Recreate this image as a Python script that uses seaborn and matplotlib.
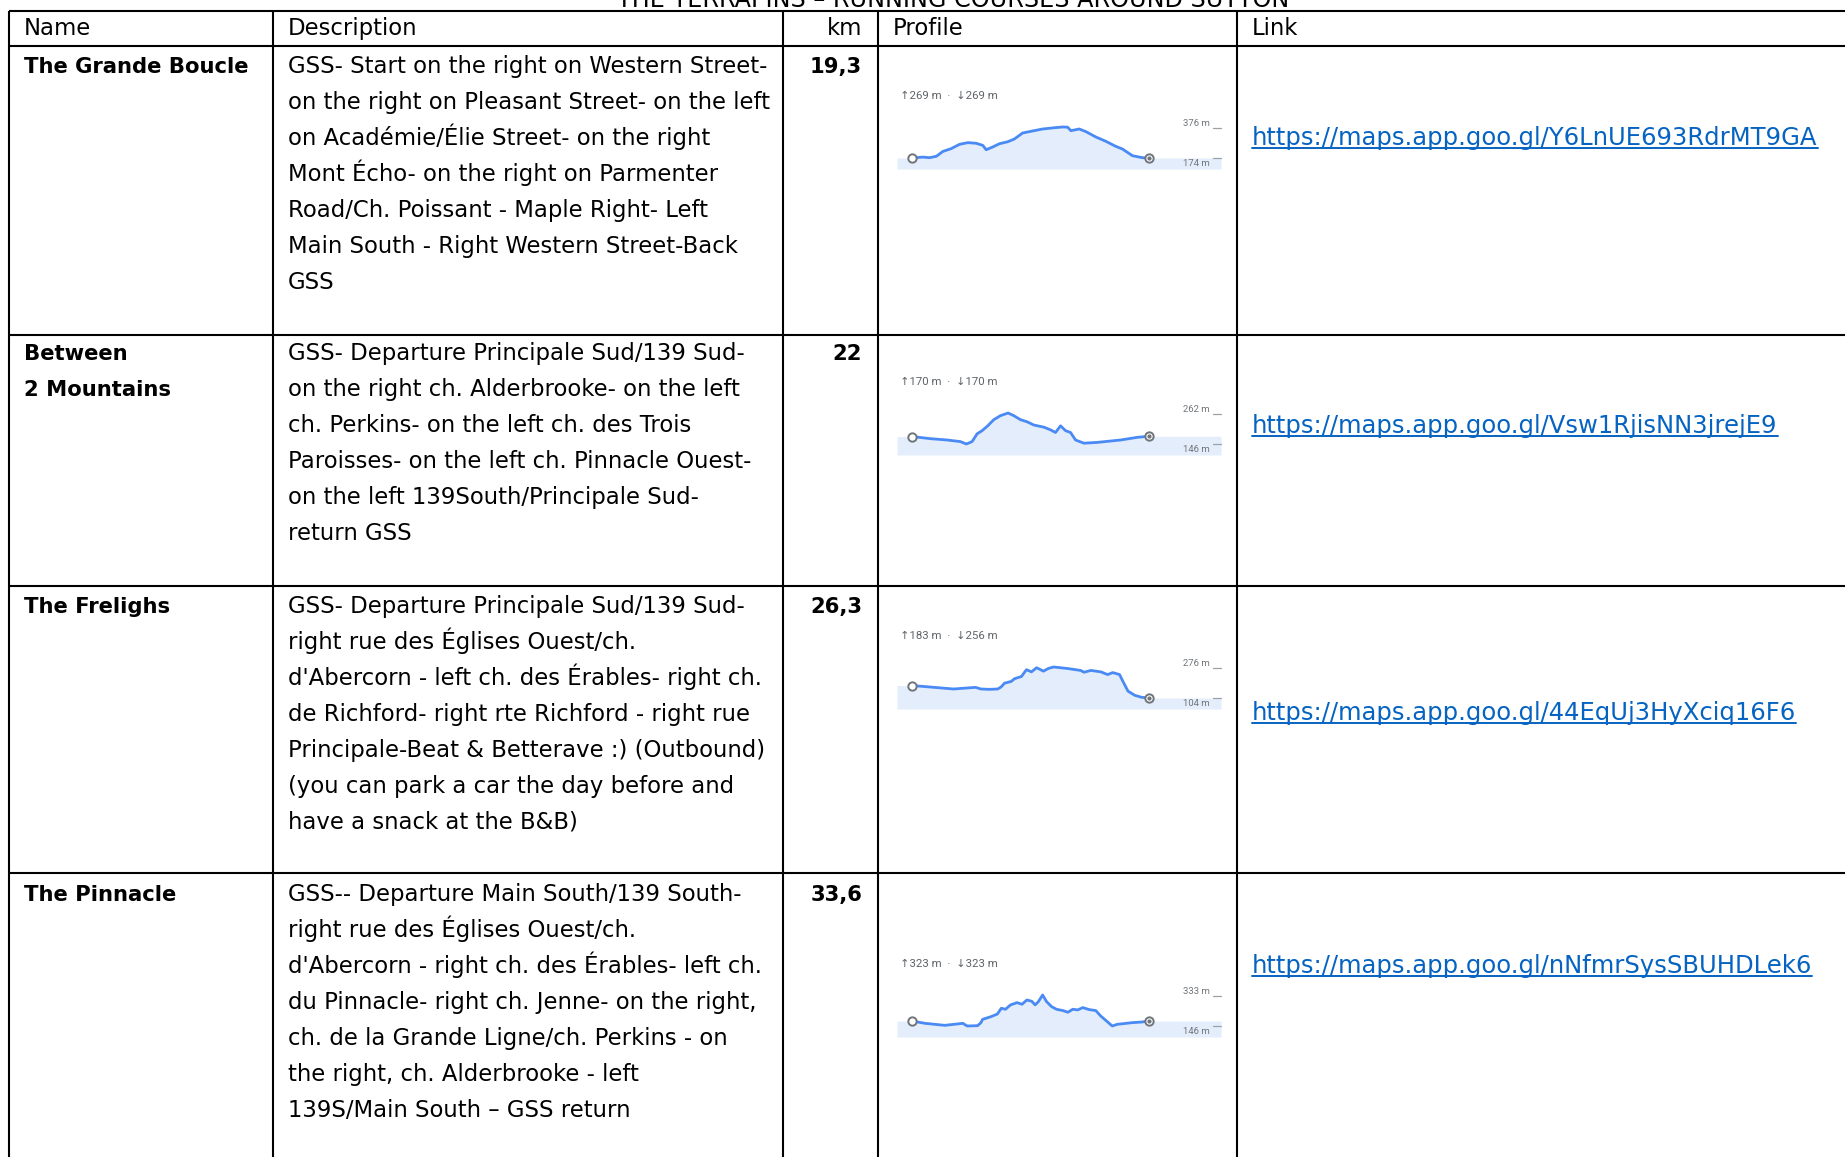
import matplotlib
matplotlib.use("Agg")
import matplotlib.pyplot as plt
import seaborn as sns

# ---------------- data ----------------
title = "THE TERRAPINS – RUNNING COURSES AROUND SUTTON"
headers = ["Name", "Description", "km", "Profile", "Link"]
names = [["The Grande Boucle"], ["Between", "2 Mountains"], ["The Frelighs"], ["The Pinnacle"]]
km_labels = ["19,3", "22", "26,3", "33,6"]

desc_1 = ["GSS- Start on the right on Western Street-",
          "on the right on Pleasant Street- on the left",
          "on Académie/Élie Street- on the right",
          "Mont Écho- on the right on Parmenter",
          "Road/Ch. Poissant - Maple Right- Left",
          "Main South - Right Western Street-Back",
          "GSS"]
desc_2 = ["GSS- Departure Principale Sud/139 Sud-",
          "on the right ch. Alderbrooke- on the left",
          "ch. Perkins- on the left ch. des Trois",
          "Paroisses- on the left ch. Pinnacle Ouest-",
          "on the left 139South/Principale Sud-",
          "return GSS"]
desc_3 = ["GSS- Departure Principale Sud/139 Sud-",
          "right rue des Églises Ouest/ch.",
          "d'Abercorn - left ch. des Érables- right ch.",
          "de Richford- right rte Richford - right rue",
          "Principale-Beat & Betterave :) (Outbound)",
          "(you can park a car the day before and",
          "have a snack at the B&B)"]
desc_4 = ["GSS-- Departure Main South/139 South-",
          "right rue des Églises Ouest/ch.",
          "d'Abercorn - right ch. des Érables- left ch.",
          "du Pinnacle- right ch. Jenne- on the right,",
          "ch. de la Grande Ligne/ch. Perkins - on",
          "the right, ch. Alderbrooke - left",
          "139S/Main South – GSS return"]

links = ["https://maps.app.goo.gl/Y6LnUE693RdrMT9GA",
         "https://maps.app.goo.gl/Vsw1RjisNN3jrejE9",
         "https://maps.app.goo.gl/44EqUj3HyXciq16F6",
         "https://maps.app.goo.gl/nNfmrSysSBUHDLek6"]

gain_up = [269, 170, 183, 323]
gain_down = [269, 170, 256, 323]
elev_max = [376, 262, 276, 333]
elev_min = [174, 146, 104, 146]

# elevation profiles (km, m)
dist_1 = [0, 0.89, 1.43, 1.98, 2.52, 3.19, 3.87, 4.55, 5.22, 5.77, 6.04, 6.58, 7.12, 7.8, 8.34,
          9.01, 9.82, 10.64, 11.45, 12.26, 12.67, 12.94, 13.62, 14.16, 14.97, 15.78, 16.59,
          17.13, 17.95, 18.76, 19.3]
elev_1 = [174, 180, 176, 185, 217, 235, 263, 274, 270, 256, 228, 246, 267, 280, 298,
          337, 350, 363, 370, 376, 375, 352, 363, 346, 311, 283, 250,
          233, 189, 176, 174]

dist_2 = [0, 1.70, 3.25, 4.49, 5.05, 5.58, 6.04, 6.51, 7.03, 7.59, 8.21, 8.92, 9.45, 10.07,
          10.69, 11.31, 12.24, 12.86, 13.32, 13.79, 14.25, 14.72, 15.18, 15.96, 17.2, 19.37,
          20.92, 22]
elev_2 = [174, 166, 161, 155, 146, 155, 184, 196, 214, 237, 252, 262, 252, 237,
          229, 217, 209, 199, 189, 214, 196, 189, 161, 149, 152, 161,
          171, 175]

dist_3 = [0, 1.05, 2.93, 4.62, 5.94, 7.06, 7.63, 8.57, 9.51, 9.88, 10.26, 11.01, 11.38, 12.14,
          12.7, 13.26, 13.83, 14.58, 15.14, 15.71, 17.21, 18.71, 19.09, 19.84, 20.96, 21.71,
          22.28, 23.03, 23.41, 23.97, 24.72, 25.47, 26.3]
elev_3 = [173, 169, 161, 154, 159, 163, 154, 152, 154, 165, 186, 196, 211, 223,
          261, 249, 272, 253, 268, 276, 268, 257, 247, 257, 249, 234,
          245, 234, 196, 142, 119, 108, 104]

dist_4 = [0, 1.86, 4.65, 7.21, 7.82, 9.31, 9.77, 10.01, 11.17, 12.1, 12.66, 13.26, 13.96, 14.89,
          15.59, 16.29, 16.99, 17.45, 17.92, 18.52, 19.08, 19.78, 20.48, 21.41, 22.1, 22.8,
          23.5, 24.2, 25.13, 26.06, 26.76, 27.69, 28.39, 29.09, 31.18, 32.58, 33.6]
elev_4 = [176, 162, 150, 162, 146, 148, 166, 186, 202, 218, 253, 247, 273, 287,
          277, 303, 295, 273, 293, 333, 293, 263, 247, 239, 229, 247,
          243, 257, 245, 239, 206, 172, 146, 156, 166, 170, 176]

profiles = [(dist_1, elev_1), (dist_2, elev_2), (dist_3, elev_3), (dist_4, elev_4)]
descriptions = [desc_1, desc_2, desc_3, desc_4]

# ---------------- layout (pixels) ----------------
W, H, DPI = 1845, 1157, 100
col_x = [9, 273, 783, 878, 1237]
row_y = [10.5, 46, 335, 586, 873]
first_line_y = [66, 353, 606, 894]
line_step = 35.9
link_y = [138, 426, 713, 966]
prof_base_y = [158, 444, 698, 1026]
prof_left, prof_right = 897, 1221
trace_x0, trace_x1 = 912, 1149

sns.set_theme(style="white")
plt.rcParams["font.family"] = ["DejaVu Sans"]

fig = plt.figure(figsize=(W / DPI, H / DPI), dpi=DPI)
ax = fig.add_axes([0, 0, 1, 1])
ax.set_xlim(0, W)
ax.set_ylim(H, 0)
ax.axis("off")
ax.set_zorder(10)
ax.patch.set_visible(False)
renderer = fig.canvas.get_renderer()


def fit_size(txt, target_px, **kw):
    t = ax.text(0, 0, txt, fontsize=10, **kw)
    w = t.get_window_extent(renderer=renderer).width
    t.remove()
    return 10 * target_px / w


body = fit_size(desc_1[0], 478)
bold = fit_size(names[0][0], 226, fontweight="bold")
link_fs = fit_size(links[0], 564)
title_fs = fit_size(title, 666)
cap_half = 7.3

# grid lines
lw = 1.5
for y in row_y:
    ax.plot([col_x[0], W], [y, y], color="black", lw=lw, solid_capstyle="butt")
for x in col_x:
    ax.plot([x, x], [row_y[0], H], color="black", lw=lw, solid_capstyle="butt")

# title (clipped at the top edge)
ax.text(953, 0, title, ha="center", va="center", fontsize=title_fs, color="black")

# header
hx = [24, 288, 862, 893, 1252]
for i, h in enumerate(headers):
    ax.text(hx[i], 28 + cap_half, h, ha="right" if h == "km" else "left",
            va="baseline", fontsize=body, color="black")

for r in range(4):
    y0 = first_line_y[r]
    for i, line in enumerate(names[r]):
        ax.text(24, y0 + i * line_step + cap_half, line, fontsize=bold, fontweight="bold",
                va="baseline", color="black")
    for i, line in enumerate(descriptions[r]):
        ax.text(288, y0 + i * line_step + cap_half, line, fontsize=body,
                va="baseline", color="black")
    ax.text(862, y0 + cap_half, km_labels[r], fontsize=bold, fontweight="bold",
            ha="right", va="baseline", color="black")
    t = ax.text(1252, link_y[r] + cap_half, links[r], fontsize=link_fs,
                va="baseline", color="#0563C1")
    bb = t.get_window_extent(renderer=renderer)
    ax.plot([bb.x0, bb.x1], [link_y[r] + cap_half + 3, link_y[r] + cap_half + 3],
            color="#0563C1", lw=1.4)

    # elevation profile
    dist, elev = profiles[r]
    base = prof_base_y[r]
    emin, emax = elev_min[r], elev_max[r]
    ph = 51
    pax = fig.add_axes([prof_left / W, 1 - (base + 11) / H, (prof_right - prof_left) / W, ph / H])
    span = (emax - emin) * ph / 31
    lo = emin - span * 11 / ph
    pax.set_ylim(lo, lo + span)
    dpx = dist[-1] / (trace_x1 - trace_x0)
    xlo = -(trace_x0 - prof_left) * dpx
    xhi = xlo + (prof_right - prof_left) * dpx
    pax.set_xlim(xlo, xhi)
    pax.fill_between([xlo] + dist + [xhi], [elev[0]] + elev + [elev[-1]], lo,
                     color="#e4edfb", lw=0)
    sns.lineplot(x=dist, y=elev, ax=pax, color="#4a8af4", lw=2.0, sort=False)
    pax.plot(dist[0], elev[0], "o", ms=6, mfc="white", mec="#70757a", mew=1.4, zorder=5, clip_on=False)
    pax.plot(dist[-1], elev[-1], "o", ms=6, mfc="white", mec="#70757a", mew=1.4, zorder=5, clip_on=False)
    pax.plot(dist[-1], elev[-1], "o", ms=2, color="#70757a", zorder=6, clip_on=False)
    pax.axis("off")

    ax.text(900, base - 62, f"↑{gain_up[r]} m  ·  ↓{gain_down[r]} m", fontsize=8.2,
            va="center", color="#5f6368", family=["Roboto", "DejaVu Sans"])
    ax.text(1210, base - 35, f"{emax} m", fontsize=6.8, ha="right", va="center",
            color="#70757a", family=["Roboto", "DejaVu Sans"])
    ax.text(1210, base + 5, f"{emin} m", fontsize=6.8, ha="right", va="center",
            color="#70757a", family=["Roboto", "DejaVu Sans"])
    ax.plot([1213, 1221], [base - 30, base - 30], color="#9aa0a6", lw=0.9)
    ax.plot([1213, 1221], [base, base], color="#9aa0a6", lw=0.9)

fig.savefig("out.png", dpi=DPI)
